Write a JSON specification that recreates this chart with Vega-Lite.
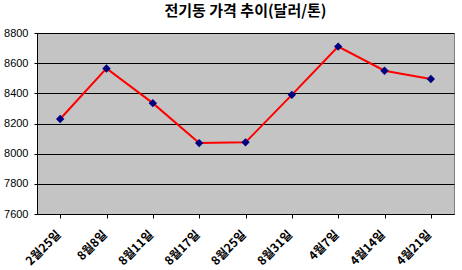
{
  "$schema": "https://vega.github.io/schema/vega-lite/v6.json",
  "autosize": "none",
  "width": 417,
  "height": 181,
  "padding": {"left": 37, "top": 33, "right": 8, "bottom": 56},
  "background": "white",
  "title": {"text": "전기동 가격 추이(달러/톤)", "font": "Noto Sans CJK KR", "fontSize": 15, "fontWeight": "bold", "color": "black", "offset": 8},
  "config": {"view": {"fill": "#c4c4c4", "stroke": "#808080", "strokeWidth": 1}},
  "data": {"values": [
    {"date": "2월25일", "price": 8230},
    {"date": "8월8일", "price": 8565},
    {"date": "8월11일", "price": 8335},
    {"date": "8월17일", "price": 8070},
    {"date": "8월25일", "price": 8075},
    {"date": "8월31일", "price": 8390},
    {"date": "4월7일", "price": 8710},
    {"date": "4월14일", "price": 8550},
    {"date": "4월21일", "price": 8495}
  ]},
  "encoding": {
    "x": {"field": "date", "type": "ordinal", "sort": null, "title": null,
      "scale": {"paddingInner": 0, "paddingOuter": 0},
      "axis": {"labelAngle": -45, "labelAlign": "right", "labelBaseline": "middle", "labelFont": "Noto Sans CJK KR", "labelFontSize": 12, "labelFontWeight": "bold", "labelColor": "black", "domainColor": "black", "tickColor": "black", "tickSize": 4, "bandPosition": 0, "grid": false, "labelOffset": -2, "labelPadding": 14}},
    "y": {"field": "price", "type": "quantitative", "title": null,
      "scale": {"domain": [7600, 8800], "nice": false, "zero": false},
      "axis": {"values": [7600, 7800, 8000, 8200, 8400, 8600, 8800], "format": "d", "labelFont": "Liberation Sans", "labelFontSize": 11, "labelColor": "black", "domainColor": "black", "tickColor": "black", "tickSize": 3, "gridColor": "black", "gridOpacity": 1, "gridWidth": 1, "labelPadding": 6}}
  },
  "layer": [
    {"mark": {"type": "line", "color": "red", "strokeWidth": 2}},
    {"mark": {"type": "point", "shape": "diamond", "filled": true, "color": "#000080", "size": 70, "opacity": 1}}
  ]
}
